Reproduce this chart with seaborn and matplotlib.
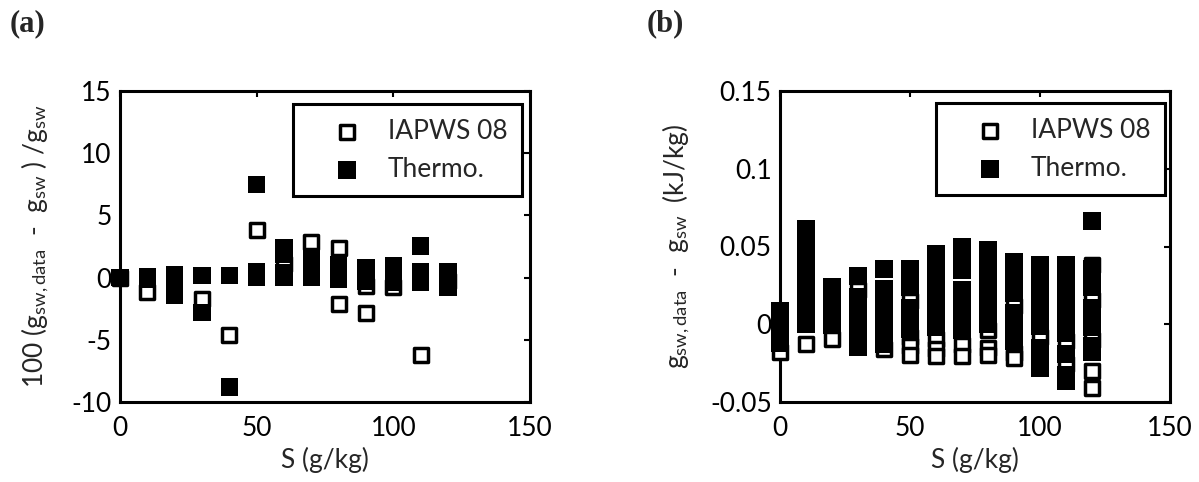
import matplotlib
matplotlib.use("Agg")
import matplotlib.pyplot as plt
import pandas as pd
import seaborn as sns

# ---------------- data ----------------
x_ticks = [0, 50, 100, 150]
a_yticks = [-10, -5, 0, 5, 10, 15]
b_yticks = [-0.05, 0, 0.05, 0.1, 0.15]
b_yticklabels = ["-0.05", "0", "0.05", "0.1", "0.15"]
series_names = ["IAPWS 08", "Thermo."]

# panel (a): 100 (g_sw,data - g_sw)/g_sw
a_iapws_S = [0, 10, 30, 40, 50, 60, 70, 80, 80, 90, 90, 100, 110, 120]
a_iapws_val = [0.0, -1.13, -1.7, -4.6, 3.85, 1.1, 2.9, 2.35, -2.1, -0.67, -2.85, -0.75, -6.25, -0.3]

a_thermo_S = [0, 10, 10, 20, 20, 20, 30, 30, 40, 40, 50, 50, 50,
              60, 60, 60, 60, 70, 70, 70, 80, 80, 80, 90, 90, 90,
              100, 100, 100, 110, 110, 110, 120, 120, 120]
a_thermo_val = [0.0, 0.1, -0.1, 0.2, -0.5, -1.4, 0.15, -2.8, 0.15, -8.8, 7.5, 0.45, 0.0,
                2.4, 1.85, 0.35, 0.0, 1.5, 0.8, 0.0, 1.0, 0.4, -0.15, 0.8, 0.2, -0.3,
                0.96, 0.3, -0.35, 2.55, 0.5, -0.35, 0.5, -0.1, -0.8]

# panel (b): g_sw,data - g_sw (kJ/kg)
b_iapws_S = [0, 10, 20, 30, 40,
             50, 50, 50, 50,
             60, 60, 60,
             70, 70,
             80, 80, 80,
             90, 90, 90,
             100,
             110, 110,
             120, 120, 120, 120, 120]
b_iapws_val = [-0.018, -0.013, -0.0095, 0.022, -0.0158,
               0.015, -0.008, -0.014, -0.0197,
               -0.0095, -0.016, -0.0207,
               -0.0135, -0.0207,
               -0.0035, -0.015, -0.0197,
               0.0115, -0.0185, -0.0218,
               -0.0085,
               -0.011, -0.0255,
               0.0383, 0.0155, -0.010, -0.030, -0.041]

b_thermo_S = ([0] * 4 + [10] * 10 + [20] * 5 + [30] * 7 + [40] * 7 + [50] * 6
              + [60] * 8 + [70] * 8 + [80] * 8 + [90] * 8 + [100] * 10
              + [110] * 10 + [120] * 9)
b_thermo_val = [0.0088, 0.003, -0.003, -0.0125,
                0.0617, 0.055, 0.048, 0.041, 0.034, 0.027, 0.020, 0.013, 0.006, 0.0,
                0.0238, 0.017, 0.010, 0.003, -0.0004,
                0.0309, 0.018, 0.011, 0.004, -0.003, -0.009, -0.015,
                0.0356, 0.0226, 0.016, 0.009, 0.002, -0.005, -0.0128,
                0.0356, 0.029, 0.0235, 0.0109, 0.004, -0.003,
                0.0456, 0.039, 0.032, 0.025, 0.018, 0.011, 0.004, -0.002,
                0.050, 0.043, 0.0345, 0.0225, 0.016, 0.009, 0.002, -0.004,
                0.048, 0.041, 0.034, 0.027, 0.020, 0.013, 0.006, 0.000,
                0.040, 0.033, 0.026, 0.020, 0.0076, 0.001, -0.005, -0.011,
                0.0383, 0.032, 0.025, 0.018, 0.011, 0.004, -0.0012, -0.015, -0.021, -0.0283,
                0.0383, 0.031, 0.024, 0.017, 0.010, 0.003, -0.0055, -0.019, -0.0325, -0.0364,
                0.0664, 0.0354, 0.029, 0.0235, 0.0107, 0.004, -0.002, -0.014, -0.018]

# ---------------- style ----------------
sns.set_style("white")
plt.rcParams.update({
    "font.family": ["Lato", "DejaVu Sans"],
    "mathtext.fontset": "custom",
    "mathtext.rm": "Lato",
    "mathtext.it": "Lato:italic",
    "mathtext.bf": "Lato:bold",
    "axes.unicode_minus": False,
})
FS = 19
S_OPEN = 10.2 ** 2
S_FILL = 12.6 ** 2

fig = plt.figure(figsize=(11.99, 4.82), dpi=100)
W, H = 1199, 482
axa = fig.add_axes([120 / W, 80 / H, 410 / W, 311 / H])
axb = fig.add_axes([780 / W, 80 / H, 390 / W, 311 / H])

panels = [
    (axa, a_iapws_S, a_iapws_val, a_thermo_S, a_thermo_val, (-10, 15), a_yticks,
     [str(t) for t in a_yticks],
     r"100 (g$_{\mathrm{sw,data}}$  -  g$_{\mathrm{sw}}$ ) /g$_{\mathrm{sw}}$", (0.98, 0.958), 15),
    (axb, b_iapws_S, b_iapws_val, b_thermo_S, b_thermo_val, (-0.05, 0.15), b_yticks,
     b_yticklabels,
     r"g$_{\mathrm{sw,data}}$  -  g$_{\mathrm{sw}}$  (kJ/kg)", (0.987, 0.961), 13),
]

for ax, oS, oV, fS, fV, ylim, yt, ytl, ylab, lanchor, lpad in panels:
    df_open = pd.DataFrame({"S": oS, "v": oV})
    df_fill = pd.DataFrame({"S": fS, "v": fV})
    sns.scatterplot(data=df_open, x="S", y="v", ax=ax, marker="s", s=S_OPEN,
                    color="white", edgecolor="black", linewidth=2.5,
                    clip_on=False, zorder=3, label=series_names[0])
    sns.scatterplot(data=df_fill, x="S", y="v", ax=ax, marker="s", s=S_FILL,
                    color="black", edgecolor="none", linewidth=0,
                    clip_on=False, zorder=4, label=series_names[1])
    ax.set_xlim(0, 150)
    ax.set_ylim(*ylim)
    ax.set_xticks(x_ticks)
    ax.set_xticklabels([str(t) for t in x_ticks])
    ax.set_yticks(yt)
    ax.set_yticklabels(ytl)
    for sp in ax.spines.values():
        sp.set_visible(True)
        sp.set_linewidth(2.2)
        sp.set_color("black")
    ax.tick_params(direction="in", length=4, width=1.5, top=True, right=True,
                   labelsize=FS, colors="black")
    ax.tick_params(axis="x", pad=10)
    ax.tick_params(axis="y", pad=6)
    ax.set_xlabel("S (g/kg)", fontsize=FS, labelpad=4)
    ax.set_ylabel(ylab, fontsize=FS, labelpad=lpad)
    leg = ax.legend(loc="upper right", bbox_to_anchor=lanchor, borderaxespad=0,
                    fontsize=FS, frameon=True, fancybox=False, framealpha=1,
                    edgecolor="black", borderpad=0.55, handlelength=3.0,
                    handletextpad=0.05, labelspacing=0.5)
    leg.get_frame().set_linewidth(2.2)
    leg.set_zorder(10)

fig.text(10 / W, 1 - 24 / H, "(a)", fontfamily="Liberation Serif", fontweight="bold",
         fontsize=22, va="center", ha="left")
fig.text(647 / W, 1 - 24 / H, "(b)", fontfamily="Liberation Serif", fontweight="bold",
         fontsize=22, va="center", ha="left")

fig.savefig("out.png", dpi=100, facecolor="white")
